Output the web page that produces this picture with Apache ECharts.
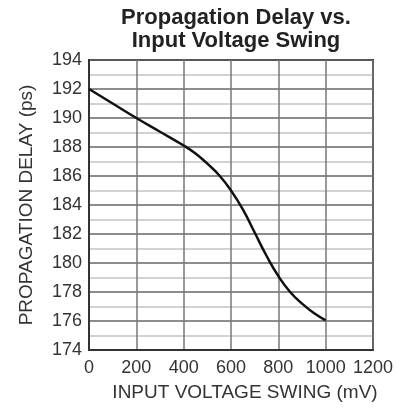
<!DOCTYPE html>
<html>
<head>
<meta charset="utf-8">
<script src="https://cdn.jsdelivr.net/npm/echarts@6/dist/echarts.min.js"></script>
<style>html,body{margin:0;padding:0;background:#fff}#c{width:416px;height:409px}</style>
</head>
<body>
<div id="c"></div>
<script>
const titleLines = ["Propagation Delay vs.", "Input Voltage Swing"];
const xName = "INPUT VOLTAGE SWING (mV)";
const yName = "PROPAGATION DELAY (ps)";
const swingMv = [0, 100, 200, 300, 400, 450, 500, 550, 600, 650, 700, 750, 800, 850, 900, 950, 1000];
const delayPs = [192, 191, 190, 189.05, 188.1, 187.55, 186.85, 186.05, 185.0, 183.7, 182.1, 180.5, 179.1, 178.0, 177.2, 176.55, 176.05];

const font = "'Liberation Sans', Arial, sans-serif";
const chart = echarts.init(document.getElementById('c'), null, {renderer: 'canvas'});
chart.setOption({
  animation: false,
  backgroundColor: '#fff',
  title: {
    text: titleLines.join('\n'),
    left: 231, top: 1, textAlign: 'center',
    textStyle: {fontFamily: font, fontSize: 22, fontWeight: 'bold', color: '#222', lineHeight: 23}
  },
  grid: {left: 89, right: 43, top: 60, bottom: 59, show: true, borderColor: '#333', borderWidth: 2, backgroundColor: 'transparent'},
  xAxis: {
    type: 'value', min: 0, max: 1200, interval: 200,
    name: xName, nameLocation: 'middle', nameGap: 33,
    nameTextStyle: {fontFamily: font, fontSize: 19, color: '#333', padding: [0, 0, 0, 28]},
    axisLine: {show: true, lineStyle: {color: '#333', width: 2}},
    axisTick: {show: false},
    axisLabel: {fontFamily: font, fontSize: 18, color: '#333', margin: 9, formatter: v => String(v)},
    splitLine: {show: true, lineStyle: {color: '#777', width: 1.5}}
  },
  yAxis: {
    type: 'value', min: 174, max: 194, interval: 2,
    name: yName, nameLocation: 'middle', nameGap: 53, nameRotate: 90,
    nameTextStyle: {fontFamily: font, fontSize: 19, color: '#333'},
    axisLine: {show: true, lineStyle: {color: '#333', width: 2}},
    axisTick: {show: false},
    axisLabel: {fontFamily: font, fontSize: 18, color: '#333', margin: 7, formatter: v => String(v)},
    splitLine: {show: true, lineStyle: {color: '#666', width: 1.5}},
    minorTick: {show: false, splitNumber: 2},
    minorSplitLine: {show: true, lineStyle: {color: '#c4c4c4', width: 1.5}}
  },
  series: [{
    type: 'line', data: swingMv.map((x, i) => [x, delayPs[i]]),
    smooth: 0.5, showSymbol: false, symbol: 'none',
    lineStyle: {color: '#111', width: 2.5}
  }]
});
</script>
</body>
</html>
